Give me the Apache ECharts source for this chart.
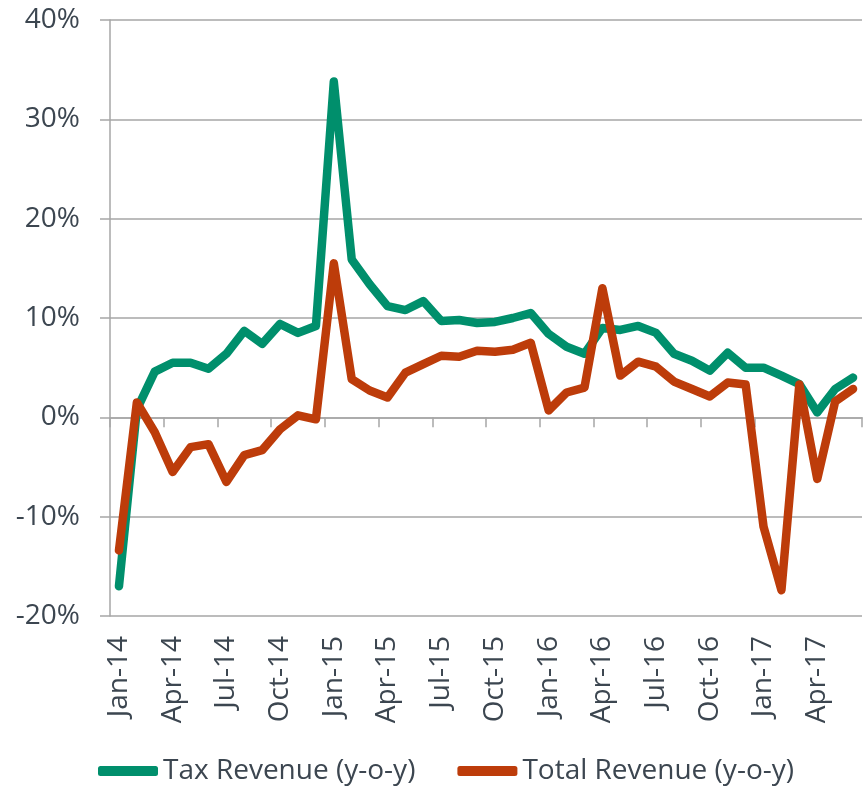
<!DOCTYPE html>
<html>
<head>
<meta charset="utf-8">
<script src="https://cdn.jsdelivr.net/npm/echarts@6/dist/echarts.min.js"></script>
<style>
	html,body{margin:0;padding:0;background:#fff;}
	#chart{width:867px;height:786px;}
</style>
</head>
<body>
<div id="chart"></div>
<script>
	var months = [];
	var mnames = ['Jan','Feb','Mar','Apr','May','Jun','Jul','Aug','Sep','Oct','Nov','Dec'];
	var years = ['14','15','16','17'];
	for(var y=0;y<years.length;y++){
		for(var m=0;m<12;m++){
			if(y==3 && m>5) break;
			months.push(mnames[m]+'-'+years[y]);
		}
	}

	var seriesNames = ['Tax Revenue (y-o-y)','Total Revenue (y-o-y)'];
	var taxRevenue = [-17.0, 0.8, 4.6, 5.5, 5.5, 4.9, 6.4, 8.7, 7.4, 9.4, 8.5, 9.2,
		33.8, 15.9, 13.4, 11.2, 10.8, 11.7, 9.7, 9.8, 9.5, 9.6, 10.0, 10.5,
		8.4, 7.1, 6.4, 9.0, 8.8, 9.2, 8.5, 6.4, 5.7, 4.7, 6.5, 5.0,
		5.0, 4.2, 3.35, 0.5, 2.85, 4.0];
	var totalRevenue = [-13.4, 1.5, -1.5, -5.5, -3.0, -2.7, -6.5, -3.8, -3.3, -1.2, 0.2, -0.2,
		15.5, 3.85, 2.7, 2.0, 4.5, 5.35, 6.2, 6.1, 6.7, 6.6, 6.8, 7.5,
		0.7, 2.5, 3.0, 13.0, 4.2, 5.6, 5.1, 3.6, 2.85, 2.1, 3.5, 3.3,
		-11.0, -17.4, 3.3, -6.2, 1.6, 2.85];
	var yTicks = [-20, 40, 10]; // min, max, step

	var txtColor = '#3c4650';
	var gridColor = '#a6a6a6';
	var font = 'Open Sans';

	var myChart = echarts.init(document.getElementById('chart'));
	var option = {
		animation:false,
		color:['#008f6c','#bd3c0a'],
		grid:{left:110,right:5,top:20,bottom:170,containLabel:false},
		legend:{
			data:seriesNames,
			left:93,
			top:752,
			icon:'roundRect',
			itemWidth:60,
			itemHeight:10,
			itemGap:42,
			textStyle:{color:txtColor,fontSize:28,fontFamily:font}
		},
		xAxis:[{
			type:'category',
			data:months,
			boundaryGap:true,
			position:'bottom',
			axisLine:{onZero:true,lineStyle:{color:gridColor,width:1.5}},
			axisTick:{show:true,interval:2,length:10,lineStyle:{color:gridColor,width:1.5}},
			axisLabel:{show:false}
		},{
			type:'category',
			data:months,
			boundaryGap:true,
			position:'bottom',
			axisLine:{show:false,onZero:false},
			axisTick:{show:false},
			axisLabel:{
				interval:2,
				rotate:90,
				margin:20,
				color:txtColor,
				fontSize:28,
				fontFamily:font
			}
		}],
		yAxis:{
			type:'value',
			min:yTicks[0],
			max:yTicks[1],
			interval:yTicks[2],
			axisLine:{show:true,lineStyle:{color:gridColor,width:1.5}},
			axisTick:{show:true,length:10,lineStyle:{color:gridColor,width:1.5}},
			axisLabel:{
				formatter:'{value}%',
				margin:30,
				color:txtColor,
				fontSize:28,
				fontFamily:font
			},
			splitLine:{lineStyle:{color:gridColor,width:1.5}}
		},
		series:[{
			name:seriesNames[0],
			type:'line',
			xAxisIndex:0,
			data:taxRevenue,
			symbol:'none',
			lineStyle:{width:8.5,join:'round',cap:'round'}
		},{
			name:seriesNames[1],
			type:'line',
			xAxisIndex:0,
			data:totalRevenue,
			symbol:'none',
			lineStyle:{width:8.5,join:'round',cap:'round'}
		}]
	};
	myChart.setOption(option);
</script>
</body>
</html>
